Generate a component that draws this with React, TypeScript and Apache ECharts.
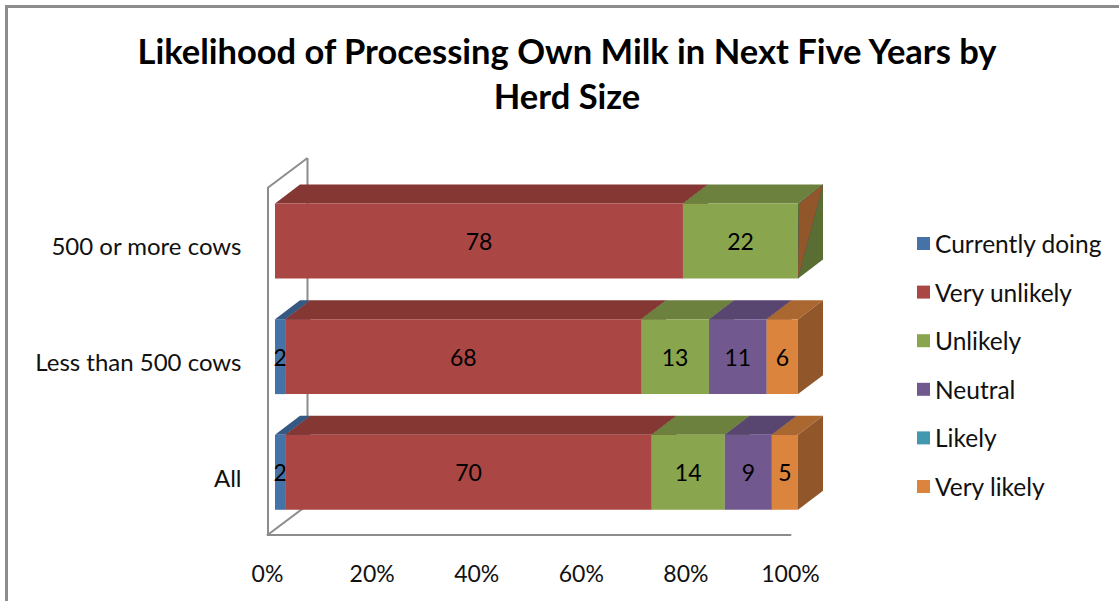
import React, { useEffect, useRef } from "react";
import * as echarts from "echarts";

// Herd-size groups (bottom to top on the category axis)
const categories = ["All", "Less than 500 cows", "500 or more cows"];
const seriesNames = ["Currently doing", "Very unlikely", "Unlikely", "Neutral", "Likely", "Very likely"];

// Percent of respondents per group
const currentlyDoing = [2, 2, 0];
const veryUnlikely = [70, 68, 78];
const unlikely = [14, 13, 22];
const neutral = [9, 11, 0];
const likely = [0, 0, 0];
const veryLikely = [5, 6, 0];

const xTicks = [0, 20, 40, 60, 80, 100];

const seriesValues = [currentlyDoing, veryUnlikely, unlikely, neutral, likely, veryLikely];

// Face colours: front, top (darker), side (darkest)
const frontColors = ["#4572A7", "#AA4643", "#89A54E", "#71588F", "#4198AF", "#DB843D"];
const topColors = ["#365983", "#853734", "#6B813D", "#584570", "#337789", "#AB6730"];
const sideColors = ["#2E4C70", "#712E2C", "#5A6D33", "#4A3A5E", "#2B6473", "#91572A"];

const FONT = 'Lato, "Open Sans", "DejaVu Sans", sans-serif';
const LABEL_SIZE = 23;

// 3D projection of the boxes, as fractions of one category band
const BAR_RATIO = 0.648;
const FRONT_X = 0.065;
const FRONT_Y = 0.042;
const DEPTH_X = 0.216;
const DEPTH_Y = 0.164;
// wall / floor depth in pixels
const WALL_DX = 40;
const WALL_DY = -30;

function buildSeriesData(idx: number) {
  return categories.map((_, c) => {
    let start = 0;
    for (let k = 0; k < idx; k++) start += seriesValues[k][c];
    const v = seriesValues[idx][c];
    return [start, start + v, c, v];
  });
}

function makeBoxRenderer(idx: number) {
  return (params: any, api: any) => {
    const start = api.value(0);
    const end = api.value(1);
    const cat = api.value(2);
    const val = api.value(3);
    const band = api.size([0, 1])[1];
    const h = band * BAR_RATIO;
    const dx = band * DEPTH_X;
    const dy = -band * DEPTH_Y;
    const a = api.coord([start, cat]);
    const b = api.coord([end, cat]);
    const x0 = a[0] + band * FRONT_X;
    const x1 = b[0] + band * FRONT_X;
    const yc = a[1] - band * FRONT_Y;
    const top = yc - h / 2;
    const bot = yc + h / 2;

    if (val === 0) {
      // an empty slice at the end of a bar still shades part of the end face
      if (start < 100) return null;
      return {
        type: "polygon",
        z2: idx * 3 + 1,
        shape: { points: [[x1 + 1, top], [x1 + dx, top + dy], [x1, bot]] },
        style: { fill: sideColors[idx] },
      };
    }

    return {
      type: "group",
      children: [
        {
          type: "polygon",
          z2: idx * 3,
          shape: { points: [[x0, top], [x0 + dx, top + dy], [x1 + dx, top + dy], [x1, top]] },
          style: { fill: topColors[idx] },
        },
        {
          type: "polygon",
          z2: idx * 3,
          shape: { points: [[x1, top], [x1 + dx, top + dy], [x1 + dx, bot + dy], [x1, bot]] },
          style: { fill: sideColors[idx] },
        },
        {
          type: "rect",
          z2: idx * 3 + 1,
          shape: { x: x0, y: top, width: x1 - x0, height: h },
          style: { fill: frontColors[idx] },
        },
        {
          type: "text",
          z2: idx * 3 + 2,
          style: {
            text: String(val),
            x: (x0 + x1) / 2,
            y: yc,
            align: "center",
            verticalAlign: "middle",
            fontSize: LABEL_SIZE,
            fontFamily: FONT,
            fill: "#000",
          },
        },
      ],
    };
  };
}

function renderWall(params: any, api: any) {
  const cs = params.coordSys;
  const x = cs.x;
  const y = cs.y;
  const bottom = cs.y + cs.height;
  const line = { stroke: "#8c8c8c", lineWidth: 2 };
  return {
    type: "group",
    children: [
      { type: "line", shape: { x1: x, y1: y, x2: x + WALL_DX, y2: y + WALL_DY }, style: line },
      { type: "line", shape: { x1: x + WALL_DX, y1: y + WALL_DY, x2: x + WALL_DX, y2: bottom + WALL_DY }, style: line },
      { type: "line", shape: { x1: x, y1: bottom, x2: x + WALL_DX, y2: bottom + WALL_DY }, style: line },
    ],
  };
}

export default function App() {
  const ref = useRef<HTMLDivElement>(null);

  useEffect(() => {
    if (!ref.current) return;
    const chart = echarts.init(ref.current, null, { renderer: "svg" });

    const boxSeries = seriesNames.map((name, i) => ({
      name,
      type: "custom",
      z: 3,
      itemStyle: { color: frontColors[i] },
      encode: { x: [0, 1], y: 2 },
      data: buildSeriesData(i),
      renderItem: makeBoxRenderer(i),
    }));

    chart.setOption({
      animation: false,
      backgroundColor: "#ffffff",
      title: {
        text: "Likelihood of Processing Own Milk in Next Five Years by\nHerd Size",
        left: 567,
        top: 28,
        padding: 0,
        textAlign: "center",
        textStyle: {
          fontFamily: FONT,
          fontSize: 34.5,
          fontWeight: "bold",
          lineHeight: 45,
          color: "#000",
        },
      },
      legend: {
        data: seriesNames,
        orient: "vertical",
        left: 912,
        top: 226,
        icon: "rect",
        itemWidth: 13,
        itemHeight: 13,
        itemGap: 23.6,
        textStyle: {
          fontFamily: FONT,
          fontSize: 24.5,
          lineHeight: 24,
          color: "#111",
        },
      },
      grid: { left: 267.5, top: 188, width: 523, height: 347, containLabel: false },
      xAxis: {
        type: "value",
        min: xTicks[0],
        max: xTicks[xTicks.length - 1],
        interval: xTicks[1] - xTicks[0],
        axisLine: { show: true, lineStyle: { color: "#8c8c8c", width: 2 } },
        axisTick: { show: false },
        splitLine: { show: false },
        axisLabel: {
          formatter: "{value}%",
          margin: 26,
          fontFamily: FONT,
          fontSize: LABEL_SIZE,
          color: "#111",
        },
      },
      yAxis: {
        type: "category",
        data: categories,
        axisLine: { show: true, lineStyle: { color: "#8c8c8c", width: 2 } },
        axisTick: { show: false },
        splitLine: { show: false },
        axisLabel: {
          margin: 26,
          fontFamily: FONT,
          fontSize: 24,
          color: "#111",
        },
      },
      graphic: [
        {
          type: "rect",
          silent: true,
          z: -1,
          shape: { x: 6.5, y: 6.5, width: 1200, height: 700 },
          style: { fill: "none", stroke: "#8c8c8c", lineWidth: 3 },
        },
      ],
      series: [
        {
          name: "wall",
          type: "custom",
          z: 1,
          silent: true,
          encode: { x: 0, y: 1 },
          data: [[0, 0]],
          renderItem: renderWall,
        },
        ...boxSeries,
      ],
    });

    return () => chart.dispose();
  }, []);

  return (
    <div
      ref={ref}
      style={{ position: "fixed", left: 0, top: 0, width: 1119, height: 601, background: "#fff" }}
    />
  );
}
